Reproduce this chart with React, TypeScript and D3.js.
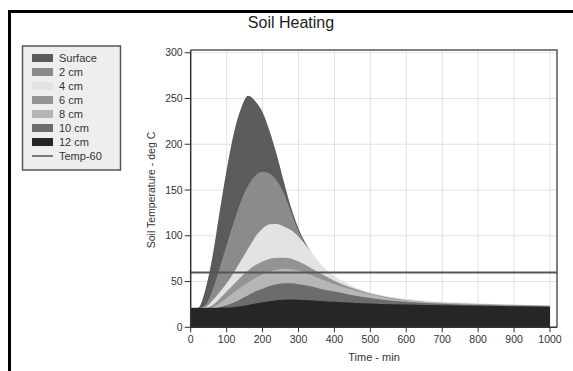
import * as d3 from "d3";
import React from "react";

// time in minutes
const times = [0, 20, 40, 60, 80, 100, 120, 140, 160, 180, 200, 220, 240, 260, 280, 300, 330, 360, 400, 450, 500, 560, 650, 750, 850, 1000];

const surface = [21, 21, 40, 76, 125, 172, 212, 239, 253, 247, 235, 214, 188, 158, 130, 108, 85, 68, 54, 42, 35, 30, 27, 25, 24, 23];
const cm2 = [21, 21, 24, 40, 64, 90, 115, 138, 155, 166, 170, 168, 160, 146, 125, 105, 84, 67, 53, 42, 35, 30, 27, 25, 24, 23];
const cm4 = [21, 21, 22, 29, 38, 48, 60, 73, 86, 99, 108, 112.5, 113, 110, 106, 99, 85, 70, 56, 45, 38, 33, 29, 27, 25.5, 24];
const cm6 = [21, 21, 21, 24, 31, 39, 47, 55, 62, 68, 72, 75, 76, 76, 75, 72, 66, 59, 51, 43, 37, 32, 28, 26, 25, 23.5];
const cm8 = [21, 21, 21, 22, 26, 32, 38, 44, 49, 54, 58, 61, 63, 64, 63.5, 62, 58, 53, 47, 41, 36, 31, 28, 25.5, 24.5, 23];
const cm10 = [21, 21, 21, 21, 22, 24, 27, 31, 35, 39, 42, 45, 47, 48, 48, 47, 45, 42, 39, 35, 32, 29, 26.5, 25, 24, 22.8];
const cm12 = [21.4, 21.4, 21.4, 21.4, 21.4, 21.5, 22, 23, 24.5, 26, 27.5, 28.5, 29.5, 30, 30.3, 30.2, 29.6, 28.8, 27.8, 26.8, 26, 25.2, 24.5, 23.8, 23.2, 22.5];

const seriesNames = ["Surface", "2 cm", "4 cm", "6 cm", "8 cm", "10 cm", "12 cm"];
const seriesValues = [surface, cm2, cm4, cm6, cm8, cm10, cm12];
const seriesColors = ["#5b5b5b", "#8b8b8b", "#e3e3e3", "#949494", "#b6b6b6", "#6c6c6c", "#262626"];

const tempLine = 60;
const xTicks = [0, 100, 200, 300, 400, 500, 600, 700, 800, 900, 1000];
const yTicks = [0, 50, 100, 150, 200, 250, 300];

const font = "'Liberation Sans', Arial, sans-serif";

export default function App() {
  const W = 573;
  const H = 371;
  const left = 190.7, right = 557, top = 50, bottom = 327.3;

  const x = d3.scaleLinear().domain([0, 1019.5]).range([left, right]);
  const y = d3.scaleLinear().domain([0, 303]).range([bottom, top]);

  const area = d3.area<number>()
    .x((_, i) => x(times[i]))
    .y0(y(0))
    .y1(d => y(d))
    .curve(d3.curveMonotoneX);

  return (
    <div style={{ position: "absolute", left: 0, top: 0 }}>
      <svg width={W} height={H} style={{ display: "block", fontFamily: font }}>
        <rect width={W} height={H} fill="#fff" />
        {/* outer frame */}
        <path d={`M9.5,${H + 5} V11.5 H${W + 5}`} fill="none" stroke="#000" strokeWidth={3} />

        <text x={291} y={28} textAnchor="middle" fontSize={16} fill="#222">Soil Heating</text>

        {/* grid */}
        {xTicks.slice(1).map(t => (
          <line key={"gx" + t} x1={x(t)} x2={x(t)} y1={top} y2={bottom} stroke="#e2e2e2" strokeWidth={1} />
        ))}
        {yTicks.slice(1).map(t => (
          <line key={"gy" + t} x1={left} x2={right} y1={y(t)} y2={y(t)} stroke="#e2e2e2" strokeWidth={1} />
        ))}

        {/* areas, drawn surface first so deeper layers sit on top */}
        {seriesValues.map((vals, i) => (
          <path key={seriesNames[i]} d={area(vals) || ""} fill={seriesColors[i]} stroke="none" />
        ))}

        <line x1={left} x2={right} y1={y(tempLine)} y2={y(tempLine)} stroke="#555" strokeWidth={2} />

        {/* frame */}
        <path d={`M${left},${top} H${right} V${bottom}`} fill="none" stroke="#555" strokeWidth={1.5} />
        <path d={`M${left},${top} V${bottom} H${right}`} fill="none" stroke="#333" strokeWidth={1.5} />

        {/* y axis */}
        {yTicks.map(t => (
          <g key={"yt" + t}>
            <line x1={left - 6} x2={left} y1={y(t)} y2={y(t)} stroke="#333" strokeWidth={1} />
            <text x={left - 8} y={y(t)} dy="0.35em" textAnchor="end" fontSize={10.5} fill="#333">{t}</text>
          </g>
        ))}
        {/* x axis */}
        {xTicks.map(t => (
          <g key={"xt" + t}>
            <line x1={x(t)} x2={x(t)} y1={bottom} y2={bottom + 5} stroke="#333" strokeWidth={1} />
            <text x={x(t)} y={bottom + 16} textAnchor="middle" fontSize={10.5} fill="#333">{t}</text>
          </g>
        ))}

        <text x={374} y={361} textAnchor="middle" fontSize={11} fill="#333">Time - min</text>
        <text transform={`translate(155,190) rotate(-90)`} textAnchor="middle" fontSize={10.5} fill="#333">Soil Temperature - deg C</text>

        {/* legend */}
        <rect x={22.5} y={46} width={98} height={124} fill="#eeeeee" stroke="#555" strokeWidth={1.5} />
        {seriesNames.map((name, i) => (
          <g key={"lg" + name}>
            <rect x={32} y={54 + i * 14} width={21} height={8} fill={seriesColors[i]} />
            <text x={59} y={58 + i * 14} dy="0.35em" fontSize={11} fill="#333">{name}</text>
          </g>
        ))}
        <line x1={32} x2={53} y1={156} y2={156} stroke="#555" strokeWidth={1.5} />
        <text x={59} y={156} dy="0.35em" fontSize={11} fill="#333">Temp-60</text>
      </svg>
    </div>
  );
}
